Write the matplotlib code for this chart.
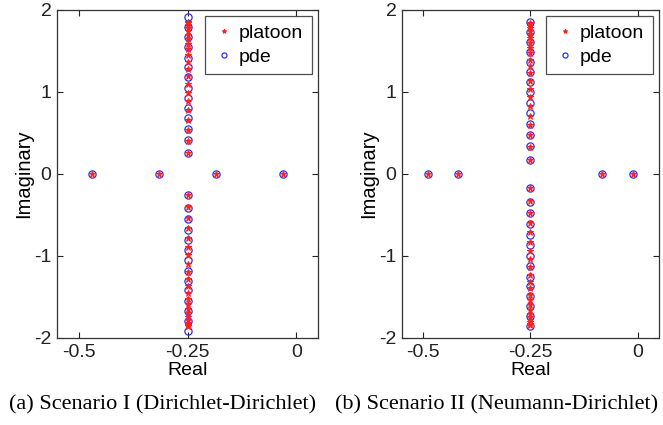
import matplotlib
matplotlib.use("Agg")
import matplotlib.pyplot as plt
import numpy as np

plt.rcParams["font.family"] = ["Liberation Sans", "DejaVu Sans"]
plt.rcParams["axes.unicode_minus"] = False

# --------------------------------------------------
# Data
# --------------------------------------------------

# Scenario I (Dirichlet-Dirichlet)
centre_1 = -0.25
pde_real_1 = [-0.469, -0.315, -0.185, -0.031]
pde_imag_1 = [0.26, 0.41, 0.55, 0.68, 0.80, 0.93, 1.05, 1.18, 1.30,
              1.42, 1.55, 1.67, 1.79, 1.91]
platoon_real_1 = [-0.469, -0.315, -0.185, -0.031]
platoon_imag_1 = [0.258, 0.405, 0.536, 0.659, 0.776, 0.887, 0.993, 1.095,
                  1.191, 1.282, 1.367, 1.446, 1.520, 1.586, 1.645, 1.698,
                  1.743, 1.781, 1.812, 1.836, 1.851, 1.858]

# Scenario II (Neumann-Dirichlet)
centre_2 = -0.25
pde_real_2 = [-0.489, -0.420, -0.082, -0.011]
pde_imag_2 = [0.17, 0.34, 0.48, 0.615, 0.74, 0.87, 1.00, 1.12, 1.25,
              1.37, 1.49, 1.61, 1.73, 1.85]
platoon_real_2 = [-0.489, -0.420, -0.082, -0.011]
platoon_imag_2 = [0.165, 0.335, 0.474, 0.596, 0.713, 0.826, 0.935, 1.038,
                  1.135, 1.227, 1.314, 1.396, 1.471, 1.540, 1.603, 1.659,
                  1.708, 1.749, 1.783, 1.810, 1.830, 1.841]

captions = ["(a) Scenario I (Dirichlet-Dirichlet)",
            "(b) Scenario II (Neumann-Dirichlet)"]

x_ticks = [-0.5, -0.25, 0]
x_ticklabels = ["-0.5", "-0.25", "0"]
y_ticks = [-2, -1, 0, 1, 2]


def eigs(reals, centre, imags):
    im = np.array(imags)
    xs = list(reals) + [centre] * (2 * len(im))
    ys = [0] * len(reals) + list(im) + list(-im)
    return xs, ys


# --------------------------------------------------
# Figure
# --------------------------------------------------

W, H = 663, 425
fig = plt.figure(figsize=(W / 100, H / 100), dpi=100)

boxes = [(57, 318), (402, 659)]
caption_x = [163, 497]
top, bottom = 10, 338

scen = [
    (pde_real_1, platoon_real_1, centre_1, pde_imag_1, platoon_imag_1),
    (pde_real_2, platoon_real_2, centre_2, pde_imag_2, platoon_imag_2),
]

for (x0, x1), cx, (qr, pr, centre, pde_im, pl_im), cap in zip(
        boxes, caption_x, scen, captions):
    ax = fig.add_axes([x0 / W, 1 - bottom / H, (x1 - x0) / W, (bottom - top) / H])

    px, py = eigs(pr, centre, pl_im)
    qx, qy = eigs(qr, centre, pde_im)

    ax.plot(px, py, "*", color="#ff2020", markersize=4.8,
            markeredgewidth=0.7, linestyle="none", label="platoon", zorder=3)
    ax.plot(qx, qy, "o", color="#3030e0", markerfacecolor="none",
            markersize=5.2, markeredgewidth=0.9, linestyle="none",
            label="pde", zorder=2)

    ax.set_xlim(-0.55, 0.05)
    ax.set_ylim(-2, 2)
    ax.set_xticks(x_ticks)
    ax.set_xticklabels(x_ticklabels)
    ax.set_yticks(y_ticks)
    ax.tick_params(direction="in", top=True, right=True, labelsize=14,
                   length=4, width=0.8, colors="#222222", pad=4)
    for sp in ax.spines.values():
        sp.set_color("#333333")
        sp.set_linewidth(0.9)

    ax.set_xlabel("Real", fontsize=14, labelpad=1)
    ax.set_ylabel("Imaginary", fontsize=14.5, labelpad=1)

    leg = ax.legend(loc="upper right", fontsize=14, frameon=True,
                    fancybox=False, borderaxespad=0.3, handlelength=1.0,
                    handletextpad=0.3, borderpad=0.45, labelspacing=0.3,
                    markerscale=0.7)
    leg.get_frame().set_edgecolor("#222222")
    leg.get_frame().set_linewidth(0.9)

    fig.text(cx / W, 1 - 405 / H, cap, ha="center", va="center",
             fontsize=16, family=["Liberation Serif", "DejaVu Serif"])

fig.savefig("out.png", dpi=100)
